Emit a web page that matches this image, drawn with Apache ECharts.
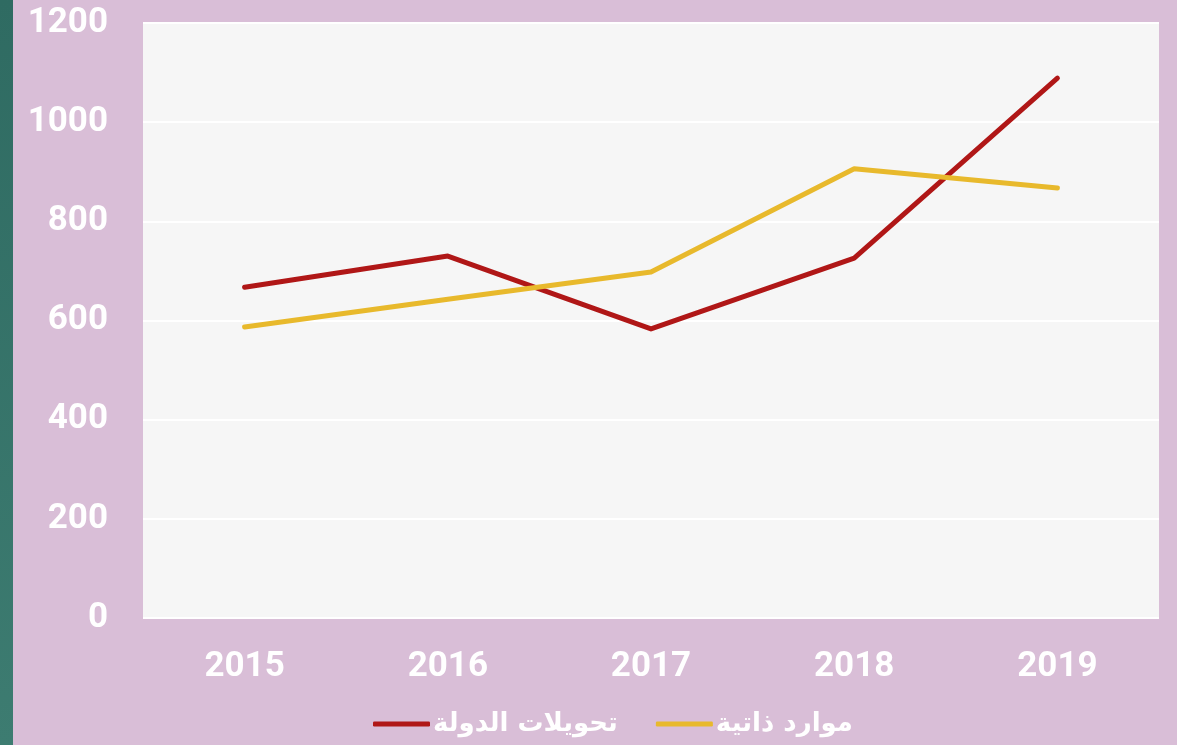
<!DOCTYPE html>
<html>
<head>
<meta charset="utf-8">
<script src="https://cdn.jsdelivr.net/npm/echarts@6/dist/echarts.min.js"></script>
<style>
  html, body { margin: 0; padding: 0; background: #d9bed7; }
  #chart { width: 1177px; height: 745px; }
</style>
</head>
<body>
<div id="chart"></div>
<script>
const years = ['2015', '2016', '2017', '2018', '2019']
const stateTransfers = [667, 730, 583, 726, 1089]
const ownResources = [587, 643, 698, 906, 867]
const yTicks = [0, 200, 400, 600, 800, 1000, 1200]

const chartDom = document.getElementById('chart')
const myChart = echarts.init(chartDom)
const labelFont = 'Roboto, "DejaVu Sans", sans-serif'

const option = {
  backgroundColor: '#d9bed7',
  color: ['#b01717', '#e8b92c'],
  graphic: [
    {
      type: 'rect',
      left: 0,
      top: 0,
      shape: { width: 13, height: 745 },
      style: {
        fill: new echarts.graphic.LinearGradient(0, 0, 0, 1, [
          { offset: 0, color: '#2f6b62' },
          { offset: 1, color: '#3d7c71' },
        ]),
      },
      silent: true,
    },
  ],
  grid: {
    left: 143,
    right: 18,
    top: 23,
    bottom: 127,
    show: true,
    backgroundColor: '#f6f6f6',
    borderWidth: 0,
  },
  legend: {
    bottom: 3,
    left: 368,
    itemGap: 38,
    itemWidth: 57,
    itemHeight: 5,
    icon: 'roundRect',
    data: ['تحويلات الدولة', 'موارد ذاتية'],
    textStyle: {
      color: '#ffffff',
      fontSize: 26,
      fontWeight: 'bold',
      fontFamily: '"DejaVu Sans", sans-serif',
      padding: [0, 0, 0, -2],
    },
  },
  xAxis: {
    type: 'category',
    data: years,
    boundaryGap: true,
    axisLine: { show: false },
    axisTick: { show: false },
    axisLabel: {
      color: '#ffffff',
      fontSize: 35,
      fontWeight: 'bold',
      fontFamily: labelFont,
      margin: 32,
    },
  },
  yAxis: {
    type: 'value',
    min: yTicks[0],
    max: yTicks[yTicks.length - 1],
    interval: 200,
    axisLine: { show: false },
    axisTick: { show: false },
    axisLabel: {
      color: '#ffffff',
      fontSize: 35,
      fontWeight: 'bold',
      fontFamily: labelFont,
      margin: 35,
      formatter: (v) => String(v),
    },
    splitLine: {
      lineStyle: { color: '#ffffff', width: 2 },
    },
  },
  series: [
    {
      name: 'تحويلات الدولة',
      type: 'line',
      data: stateTransfers,
      symbol: 'none',
      lineStyle: { width: 5, cap: 'round', join: 'round' },
    },
    {
      name: 'موارد ذاتية',
      type: 'line',
      data: ownResources,
      symbol: 'none',
      lineStyle: { width: 5, cap: 'round', join: 'round' },
    },
  ],
}

myChart.setOption(option)
window.addEventListener('resize', () => {
  myChart.resize()
})
</script>
</body>
</html>
